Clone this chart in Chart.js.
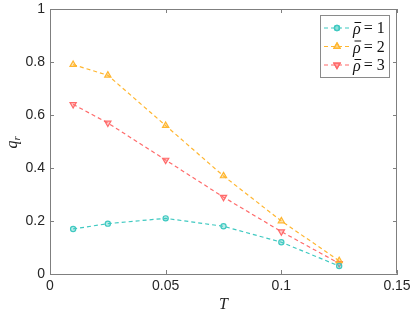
<!DOCTYPE html>
<html><head><meta charset="utf-8">
<script src="https://cdn.jsdelivr.net/npm/chart.js@4.4.1/dist/chart.umd.min.js"></script>
<style>html,body{margin:0;padding:0;background:#fff}#w{width:415px;height:318px}</style>
</head><body><div id="w"><canvas id="c" width="415" height="318"></canvas></div>
<script>
const temperatures = [0.01, 0.025, 0.05, 0.075, 0.1, 0.125];
const qRho1 = [0.17, 0.19, 0.21, 0.18, 0.12, 0.03];
const qRho2 = [0.79, 0.75, 0.56, 0.37, 0.20, 0.05];
const qRho3 = [0.64, 0.57, 0.43, 0.29, 0.16, 0.04];
const seriesLabels = ['ρ̄ = 1', 'ρ̄ = 2', 'ρ̄ = 3'];
const xTicks = [0, 0.05, 0.1, 0.15];
const yTicks = [0, 0.2, 0.4, 0.6, 0.8, 1];

const colors = ['#3fc9c1', '#ffb630', '#ff6b6b'];
const styles = [
  {pointStyle:'circle', rotation:0, radius:2.6},
  {pointStyle:'triangle', rotation:0, radius:3.6},
  {pointStyle:'triangle', rotation:180, radius:3.6}
];
const seriesData = [qRho1, qRho2, qRho3];

function hexA(h,a){const r=parseInt(h.slice(1,3),16),g=parseInt(h.slice(3,5),16),b=parseInt(h.slice(5,7),16);return `rgba(${r},${g},${b},${a})`;}

const datasets = seriesData.map((arr,i)=>({
  label: seriesLabels[i],
  data: temperatures.map((t,j)=>({x:t,y:arr[j]})),
  borderColor: colors[i],
  backgroundColor: hexA(colors[i],0.35),
  borderWidth: 1.2,
  borderDash: [4,3],
  pointStyle: styles[i].pointStyle,
  rotation: styles[i].rotation,
  pointRadius: styles[i].radius,
  pointBorderWidth: 1.2,
  pointBorderColor: colors[i],
  pointBackgroundColor: hexA(colors[i],0.35),
  tension: 0
}));

const axisColor = '#7f7f7f';
const frame = {
  id:'frame',
  afterDraw(chart){
    const {ctx, chartArea:a, scales:{x,y}} = chart;
    ctx.save();
    ctx.strokeStyle = axisColor; ctx.lineWidth = 1;
    ctx.beginPath();
    ctx.moveTo(a.left+0.5,a.top+0.5); ctx.lineTo(a.right-0.5,a.top+0.5); ctx.lineTo(a.right-0.5,a.bottom-0.5);
    ctx.stroke();
    const tl = 4;
    ctx.beginPath();
    xTicks.forEach(v=>{const px=Math.round(x.getPixelForValue(v))+0.5;
      ctx.moveTo(px,a.bottom); ctx.lineTo(px,a.bottom-tl);
      ctx.moveTo(px,a.top); ctx.lineTo(px,a.top+tl);});
    yTicks.forEach(v=>{const py=Math.round(y.getPixelForValue(v))+0.5;
      ctx.moveTo(a.left,py); ctx.lineTo(a.left+tl,py);
      ctx.moveTo(a.right,py); ctx.lineTo(a.right-tl,py);});
    ctx.stroke();
    // axis titles
    ctx.fillStyle = '#222';
    ctx.font = 'italic 16px "Liberation Serif"';
    ctx.textAlign='center'; ctx.textBaseline='middle';
    ctx.fillText('T', (a.left+a.right)/2, 305);
    ctx.translate(13, (a.top+a.bottom)/2);
    ctx.rotate(-Math.PI/2);
    ctx.font = 'italic 16px "Liberation Serif"';
    ctx.textAlign='left';
    ctx.fillText('q', -7, 0);
    ctx.font = 'italic 11px "Liberation Serif"';
    ctx.fillText('r', 1, 4);
    ctx.restore();
    // legend
    ctx.save();
    const lx=320, ly=15, lw=69, lh=62;
    ctx.fillStyle='#fff'; ctx.fillRect(lx,ly,lw,lh);
    ctx.strokeStyle='#8a8a8a'; ctx.lineWidth=1;
    ctx.strokeRect(lx+0.5,ly+0.5,lw,lh);
    chart.data.datasets.forEach((ds,i)=>{
      const cy = ly + 13 + i*18.5;
      ctx.strokeStyle = ds.borderColor; ctx.lineWidth=1.2; ctx.setLineDash([4,3]);
      ctx.beginPath(); ctx.moveTo(lx+4,cy); ctx.lineTo(lx+30,cy); ctx.stroke();
      ctx.setLineDash([]);
      ctx.fillStyle = ds.pointBackgroundColor;
      Chart.helpers.drawPoint(ctx,{pointStyle:ds.pointStyle,rotation:ds.rotation,radius:ds.pointRadius,borderWidth:1.2},lx+17,cy);
      ctx.fill(); ctx.stroke();
      const parts = ds.label.split('=');
      ctx.fillStyle='#111'; ctx.textAlign='left'; ctx.textBaseline='middle';
      ctx.font='italic 16px "Liberation Serif"';
      const rho = parts[0].replace('\u0304','').trim();
      const rx = lx+33;
      ctx.fillText(rho, rx, cy+2);
      const rw = ctx.measureText(rho).width;
      ctx.strokeStyle='#111'; ctx.lineWidth=1;
      ctx.beginPath(); ctx.moveTo(rx+1.5, cy-5.5); ctx.lineTo(rx+rw+0.5, cy-5.5); ctx.stroke();
      ctx.font='16px "Liberation Serif"';
      ctx.fillText('= ' + parts[1].trim(), rx+rw+3, cy+1);
    });
    ctx.restore();
  }
};

new Chart(document.getElementById('c'), {
  type:'line',
  data:{datasets},
  options:{
    responsive:false, animation:false,
    layout:{padding:{left:0,right:18,top:9,bottom:0}},
    plugins:{legend:{display:false}, tooltip:{enabled:false}},
    scales:{
      x:{type:'linear', min:0, max:0.15,
        afterBuildTicks(s){s.ticks = xTicks.map(v=>({value:v}));},
        afterFit(s){s.height=44; s.paddingLeft=0; s.paddingRight=0;},
        grid:{display:false, drawTicks:false},
        border:{display:true,color:axisColor,width:1},
        ticks:{color:'#262626', font:{family:'"Liberation Sans"',size:14}, padding:4, maxRotation:0,
          callback:v=>String(v)}
      },
      y:{type:'linear', min:0, max:1,
        afterBuildTicks(s){s.ticks = yTicks.map(v=>({value:v}));},
        afterFit(s){s.width=50; s.paddingTop=0; s.paddingBottom=0;},
        grid:{display:false, drawTicks:false},
        border:{display:true,color:axisColor,width:1},
        ticks:{color:'#262626', font:{family:'"Liberation Sans"',size:14}, padding:5,
          callback:v=>String(v)}
      }
    }
  },
  plugins:[frame]
});
</script></body></html>
